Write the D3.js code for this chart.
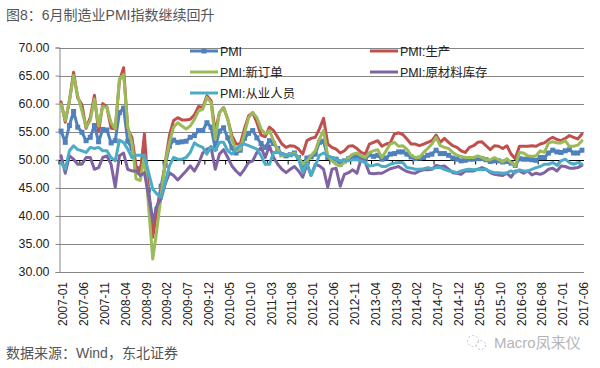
<!DOCTYPE html>
<html><head><meta charset="utf-8">
<script src="https://cdnjs.cloudflare.com/ajax/libs/d3/7.8.5/d3.min.js"></script>
<style>
html,body{margin:0;padding:0;background:#fff}
svg{display:block}
text{font-family:"Liberation Sans","Noto Sans CJK SC",sans-serif}
</style></head><body>
<svg id="c" width="600" height="368"></svg>
<script>
const startYear = 2007;
const monthCount = 126;
const yTicks = [30,35,40,45,50,55,60,65,70];
const seriesNames = ["PMI","PMI:生产","PMI:新订单","PMI:原材料库存","PMI:从业人员"];
const seriesColors = ["#4F81BD","#C0504D","#9BBB59","#8064A2","#4BACC6"];

const pmi = [
55.1,53.1,56.1,58.6,55.8,54.9,53.4,54,56.1,53.2,55.4,55.3,
53,53.4,58.4,59.2,53.3,52,48.4,48.4,51.2,44.6,38.8,41.2,
45.3,49,52.4,53.5,53.1,53.2,53.3,54,54.3,55.2,55.2,56.6,
55.8,52,55.1,55.7,53.9,52.1,51.2,51.7,53.8,54.7,55.2,53.9,
52.9,52.2,53.4,52.9,52,50.9,50.7,50.9,51.2,50.4,49,50.3,
50.5,51,53.1,53.3,50.4,50.2,50.1,49.2,49.8,50.2,50.6,50.6,
50.4,50.1,50.9,50.6,50.8,50.1,50.3,51,51.1,51.4,51.4,51,
50.5,50.2,50.3,50.4,50.8,51,51.7,51.1,51.1,50.8,50.3,50.1,
49.8,49.9,50.1,50.1,50.2,50.2,50,49.7,49.8,49.8,49.6,49.7,
49.4,49,50.2,50.1,50.1,50,49.9,50.4,50.4,51.2,51.7,51.4,
51.3,51.6,51.8,51.2,51.2,51.7];
const production = [
60.3,56.7,60.5,65.6,61,59.8,55.6,57.5,61.5,55,60,59.4,
55.6,55.5,64,66.4,55.5,54,48.9,47.4,54.6,44,36.2,41,
44.2,49.5,54.3,57,57.5,57.1,57.1,57.2,58,59.5,59.3,61.4,
60.5,54.9,58.4,59.3,57.2,54.3,52.8,52.8,55.5,57.8,58.4,56.6,
54.4,54.1,55.8,55.2,54,52.8,52.2,52.5,52.4,51.9,51,53.4,
53.8,54,55.5,57.4,52.8,52.2,51.9,51.2,51.6,52.4,52.5,52,
51.3,51,52.8,53.1,53.4,52.4,52.8,53,54.6,54.8,54.5,53.7,
52.8,52.8,52.5,52.8,53.1,53.4,54.4,53.1,53.8,53.1,52.5,52.2,
51.6,51.3,52.2,52.5,53.1,53.2,52.5,51.8,52.5,52.4,52,52.5,
51,50.2,52.4,52.4,52.4,52.5,52.4,52.8,53,53.6,54,53.6,
53.4,53.8,54.3,54,53.7,54.6];
const newOrders = [
59.9,57,60.5,65,61.4,58.7,55.8,57,60.8,56,59.5,59.3,
56.6,55.5,64.4,65.2,55.8,53,46.6,46.3,50.7,41.8,32.3,37.6,
43.6,49.5,53,55.8,56.6,56,55.5,56,57.2,58.7,59,61.1,
60.2,53.7,58.4,59.3,57.2,53.7,51.6,51.9,54.6,57.5,58.4,57.5,
55.5,54.6,55.2,53.4,51.8,50.7,50.8,51,51.2,50.4,49.2,49.8,
50.7,51.6,53.7,55.2,50.7,49.8,49.2,48.9,49.5,50.4,51,51.2,
50.7,50.4,51.3,51.6,51.8,50.4,51.6,52.8,53.1,52.4,52.5,51.9,
50.8,50.4,50.4,51.3,52,52.8,54,52.5,52.2,52,51.3,50.8,
50.6,50.4,50.4,50.4,50.7,50.4,50,50,50.4,50,49.6,50.2,
49.5,48.9,51.3,51.2,50.7,50.6,50.7,51.6,51.3,53,53.2,53,
53,53.4,52.4,52.4,52.6,53.4];
const rawStock = [
50.7,47.6,50.7,50.1,49.2,49.2,50.4,50.4,48.3,48.6,50.4,50.7,
49.2,45.1,50.7,51.2,48.3,48,48,47.2,47.7,43.6,39.1,41.8,
43,45.7,47.7,47.2,46.4,47.2,48,48.9,48,49.3,51.2,51.9,
52.2,48.3,51,51.8,50.4,48.9,48,47.3,48.3,49.5,49.8,51.3,
52.2,50.4,52.5,50.4,49.2,48.3,47.7,48.3,48.8,48,46.9,49.2,
47.2,49.2,48.9,48.3,45.1,48.3,48.5,45.3,47.4,47.7,48.2,47.6,
50.1,49.5,47.6,47.5,47.6,47.6,48,48.4,48.6,48.8,48.3,47.9,
47.7,47.6,48,48.2,48.2,48.3,49,48.8,48.9,48.3,47.7,47.6,
47.4,48,48,48,48.3,48.6,48.3,47.7,47.4,47.3,47.2,47.6,
46.9,48,48,47.6,48,47.3,47.6,47.4,47.7,48.3,48.5,48,
48.9,48.8,48.5,48.5,48.6,49];
const employment = [
49.5,48.3,51.6,52.5,51.8,51.6,51.3,52.2,52,52.2,51.6,51.6,
50.4,49.8,53.5,53.1,51.9,50.4,50.8,50.8,50.7,47.7,44.8,43.9,
43.3,46,48.9,50.4,50.1,50.1,50.4,51.3,53,52.5,52.2,51,
52.4,51.6,53.1,53.1,51.6,51,51.9,52.6,52.8,52.5,52.2,51.9,
50.7,49.2,49.2,51.3,51.3,51,50.8,50.8,51,50.1,47.7,49.5,
47.2,48.9,50.8,51.2,50.7,50.4,50.1,49.8,49.8,49.8,50,50,
49.8,49.5,48.9,49,49.2,48.8,48.8,49.2,49.4,49.5,49.5,48.6,
48.5,48.3,48.3,48.4,48.6,48.4,48.6,48.6,48.3,48,47.9,47.7,
48,48.2,48.3,48.2,48.3,48.2,48.3,47.9,47.7,47.7,47.6,47.7,
48,47.7,48.2,48,48,48.3,48.6,48.8,49.2,49.2,49.5,49,
49.8,50.1,49.5,49.2,49.5,49.2];
const allSeries = [pmi, production, newOrders, rawStock, employment];

const months = d3.range(monthCount).map(i =>
  `${startYear + Math.floor(i/12)}-${String(i%12+1).padStart(2,"0")}`);
const labelled = months.filter((_,i)=> i%5===0);

const plot = {l:59, r:584, t:47.5, b:272};
const svg = d3.select("#c");
svg.append("rect").attr("width",600).attr("height",368).attr("fill","#fff");

const x = d3.scaleBand().domain(months).range([plot.l, plot.r]);
const y = d3.scaleLinear().domain([30,70]).range([plot.b, plot.t]);
const cx = m => x(m) + x.bandwidth()/2;

// horizontal grid
svg.append("g").selectAll("line").data(yTicks).join("line")
  .attr("x1",plot.l).attr("x2",plot.r)
  .attr("y1",d=>Math.round(y(d))+.5).attr("y2",d=>Math.round(y(d))+.5)
  .attr("stroke","#868686").attr("stroke-width",1);

// y axis
const yAxis = svg.append("g").attr("transform",`translate(${plot.l+.5},0)`)
  .call(d3.axisLeft(y).tickValues(yTicks).tickFormat(d3.format(".2f")).tickSize(4).tickPadding(6));
yAxis.selectAll("path,line").attr("stroke","#868686");
yAxis.selectAll("text").attr("font-size",12.4).attr("fill","#222").style("font-family","'Liberation Sans'");

// x labels along bottom
const xAxis = svg.append("g").attr("transform",`translate(0,${plot.b})`)
  .call(d3.axisBottom(x).tickValues(labelled).tickSize(0));
xAxis.select("path").remove();
xAxis.selectAll("text")
  .attr("font-size",12).attr("fill","#222")
  .style("font-family","'Liberation Sans'")
  .attr("text-anchor","end")
  .attr("transform","translate(2,0) rotate(-90)")
  .attr("x",-10).attr("y",0).attr("dy","0.35em");

// axis at 50, behind the lines
const y50 = Math.round(y(50))+.5;
const baseAxis = svg.append("g").attr("transform",`translate(${-x.bandwidth()/2},${y50})`)
  .call(d3.axisBottom(x).tickValues(labelled).tickFormat("").tickSize(4).tickSizeOuter(0));
baseAxis.select("path").remove();
baseAxis.selectAll("line").attr("stroke","#000");
svg.append("line").attr("x1",plot.l).attr("x2",plot.r).attr("y1",y50).attr("y2",y50).attr("stroke","#000");

// lines
const line = d3.line().x((d,i)=>cx(months[i])).y(d=>y(d));
allSeries.forEach((vals,k)=>{
  svg.append("path").datum(vals).attr("d",line)
    .attr("fill","none").attr("stroke",seriesColors[k])
    .attr("stroke-width",3).attr("stroke-linejoin","round").attr("stroke-linecap","round");
  if(k===0){
    svg.append("g").selectAll("rect").data(vals).join("rect")
      .attr("x",(d,i)=>cx(months[i])-2.5).attr("y",d=>y(d)-2.5)
      .attr("width",5).attr("height",5).attr("fill",seriesColors[0]);
  }
});

// legend
const legendCols = [190,370];
const legendRows = [51,72,93];
const legendPos = [[0,0],[1,0],[0,1],[1,1],[0,2]];
seriesNames.forEach((name,k)=>{
  const lx = legendCols[legendPos[k][0]], ly = legendRows[legendPos[k][1]];
  const g = svg.append("g");
  g.append("line").attr("x1",lx).attr("x2",lx+28).attr("y1",ly).attr("y2",ly)
    .attr("stroke",seriesColors[k]).attr("stroke-width",3);
  if(k===0) g.append("rect").attr("x",lx+11.5).attr("y",ly-2.5).attr("width",5).attr("height",5).attr("fill",seriesColors[0]);
  g.append("text").attr("x",lx+30).attr("y",ly+4.5).attr("font-size",12.4).attr("fill","#222").text(name);
});

// title, source, watermark
svg.append("text").attr("x",6).attr("y",20).attr("font-size",14).attr("fill","#555")
  .text("图8：6月制造业PMI指数继续回升");
svg.append("text").attr("x",6).attr("y",358).attr("font-size",14).attr("fill","#555")
  .text("数据来源：Wind，东北证券");
svg.append("text").attr("x",494).attr("y",348).attr("font-size",15).attr("fill","#b5b5b5")
  .text("Macro凤来仪");
const wm = svg.append("g").attr("fill","none").attr("stroke","#c4c4c4").attr("stroke-width",1);
wm.append("circle").attr("cx",473).attr("cy",341).attr("r",5.5).attr("stroke-dasharray","2 2");
wm.append("circle").attr("cx",481).attr("cy",345).attr("r",4.5).attr("stroke-dasharray","2 2");
</script>
</body></html>
